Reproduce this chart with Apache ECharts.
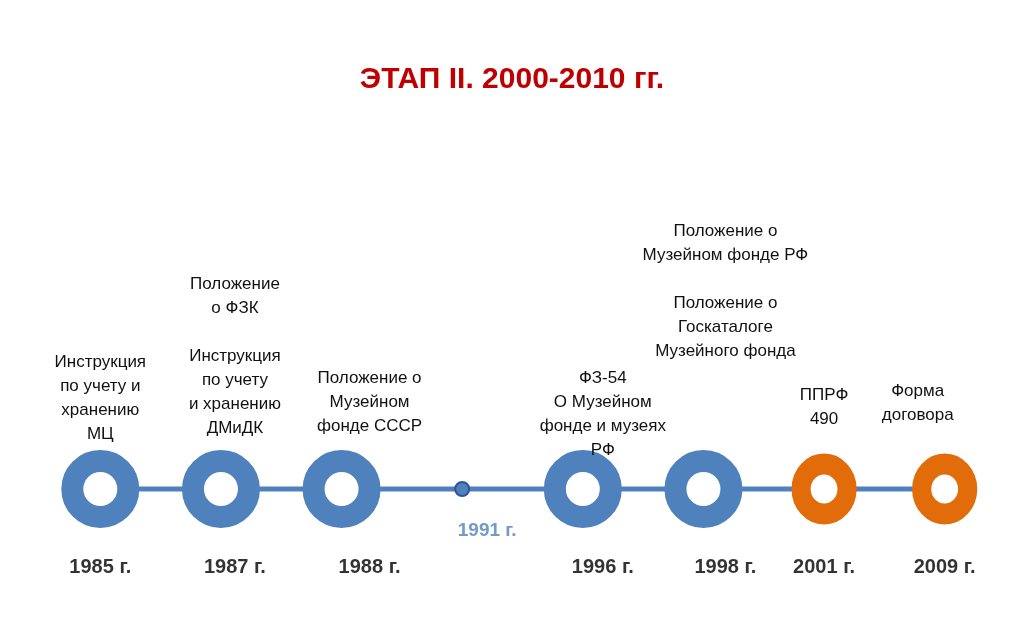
<!DOCTYPE html>
<html><head><meta charset="utf-8">
<script src="https://cdn.jsdelivr.net/npm/echarts@6/dist/echarts.min.js"></script>
<style>html,body{margin:0;background:#fff}#c{width:1024px;height:639px}</style>
</head><body><div id="c"></div>
<script>
const years = ["1985 г.", "1987 г.", "1988 г.", "1991 г.", "1996 г.", "1998 г.", "2001 г.", "2009 г."];
const kinds = ["ring", "ring", "ring", "dot", "ring", "ring", "orange", "orange"];
const notes = [
  "Инструкция\nпо учету и\nхранению\nМЦ",
  "Положение\nо ФЗК\n\nИнструкция\nпо учету\nи хранению\nДМиДК",
  "Положение о\nМузейном\nфонде СССР",
  "",
  "ФЗ-54\nО Музейном\nфонде и музеях\nРФ",
  "Положение о\nМузейном фонде РФ\n\nПоложение о\nГоскаталоге\nМузейного фонда",
  "ППРФ\n490",
  "Форма\nдоговора"
];
const noteDist = [4, 10, 12, 0, -12, 87, 22, 26];
const noteShift = [0, 14, 28, 0, 20, 22, 0, -27];

const font = "Liberation Sans, Arial, sans-serif";
const blue = "#4f81bd";

const ringData = years.map((y, i) => {
  const k = kinds[i];
  const base = { value: [y, 0] };
  if (k === "dot") {
    base.symbolSize = 14;
    base.itemStyle = { color: blue, borderColor: "#2f5597", borderWidth: 2, opacity: 1 };
  } else if (k === "orange") {
    base.symbolSize = [46, 50];
    base.itemStyle = { color: "#fff", borderColor: "#e36c0a", borderWidth: 20, opacity: 1 };
  } else {
    base.symbolSize = 56;
    base.itemStyle = { color: "#fff", borderColor: blue, borderWidth: 22, opacity: 1 };
  }
  base.label = { show: !!notes[i], formatter: notes[i], position: "top",
    distance: noteDist[i], offset: [noteShift[i], 0] };
  return base;
});

const yearData = years.map((y, i) => ({
  value: [y, 0],
  label: kinds[i] === "dot"
    ? { distance: 32, color: blue, fontSize: 19, offset: [25, 0] }
    : { distance: 68, offset: [noteShift[i] && i !== 7 ? noteShift[i] : 0, 0] }
}));

const chart = echarts.init(document.getElementById("c"));
chart.setOption({
  animation: false,
  title: { text: "ЭТАП II. 2000-2010 гг.", left: "center", top: 60,
    textStyle: { color: "#c00000", fontSize: 30, fontWeight: "bold", fontFamily: font } },
  grid: { left: 40, right: 19, top: 439, height: 100 },
  xAxis: { type: "category", data: years, show: false },
  yAxis: { type: "value", min: -1, max: 1, show: false },
  series: [
    { type: "line", data: years.map(y => [y, 0]), symbol: "none", z: 1,
      lineStyle: { color: blue, width: 5 } },
    { type: "scatter", data: ringData, z: 3,
      label: { color: "#111", fontSize: 17, lineHeight: 24, fontFamily: font, align: "center" } },
    { type: "scatter", data: yearData, symbolSize: 0, z: 2,
      label: { show: true, position: "bottom", formatter: p => p.value[0],
        color: "#000", fontSize: 20, fontWeight: "bold", fontFamily: font } }
  ]
});
</script></body></html>
